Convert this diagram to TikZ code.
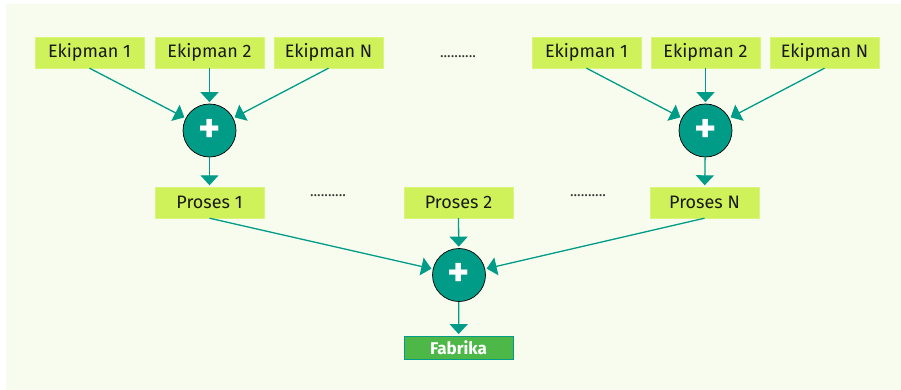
\documentclass[tikz,border=0pt]{standalone}
\usepackage{fontspec}
\setmainfont{Fira Sans}
\usetikzlibrary{arrows.meta}
\definecolor{bgc}{HTML}{F7FCEE}
\definecolor{lime}{HTML}{CFF25A}
\definecolor{teal}{HTML}{009C88}
\definecolor{fgreen}{HTML}{4DB848}
\begin{document}
\begin{tikzpicture}[x=1pt,y=-1pt,
  ebox/.style={fill=lime, draw=lime!80!white, minimum width=109pt, minimum height=31pt, inner sep=0pt, font=\fontsize{18}{20}\selectfont, text=black!90},
  plus/.style={circle, fill=teal, draw=black, line width=0.7pt, minimum size=53pt, inner sep=0pt, text=white, font=\fontsize{42}{42}\selectfont\bfseries},
  conn/.style={draw=teal, line width=1.3pt, -{Triangle[width=18pt,length=10pt]}, shorten >=1.5pt},
  dots/.style={font=\fontsize{15}{15}\selectfont, text=black!80, inner sep=0pt}]
\fill[white] (0,0) rectangle (901,390);
\fill[bgc] (6,4) rectangle (901,390);
% top left group
\node[ebox] (e1) at (89.5,52.5) {Ekipman 1};
\node[ebox] (e2) at (209.5,52.5) {Ekipman 2};
\node[ebox] (eN) at (328.5,52.5) {Ekipman N};
\node[plus] (p1) at (209.5,130.5) {+};
% top right group
\node[ebox] (f1) at (586.5,52.5) {Ekipman 1};
\node[ebox] (f2) at (705.5,52.5) {Ekipman 2};
\node[ebox] (fN) at (824.5,52.5) {Ekipman N};
\node[plus] (p2) at (705.5,130.5) {+};
\node[dots] (d0) at (458,57) {..........};
% processes
\node[ebox] (pr1) at (209.5,202.5) {Proses 1};
\node[ebox] (pr2) at (458.5,202.5) {Proses 2};
\node[ebox] (prN) at (704.5,202.5) {Proses N};
\node[dots] (d1) at (328,196) {..........};
\node[dots] (d2) at (588,196) {..........};
\node[plus] (p3) at (459,275) {+};
\node[fill=fgreen, draw=teal, line width=0.8pt, minimum width=109pt, minimum height=23pt, inner sep=0pt, text=white, font=\fontsize{17}{19}\selectfont\bfseries] (fab) at (458.5,347.5) {Fabrika};
% connectors
\draw[conn] (e1.south) -- (p1);
\draw[conn] (e2.south) -- (p1);
\draw[conn] (eN.south) -- (p1);
\draw[conn] (f1.south) -- (p2);
\draw[conn] (f2.south) -- (p2);
\draw[conn] (fN.south) -- (p2);
\draw[conn] (p1) -- (pr1);
\draw[conn] (p2) -- (prN);
\draw[conn] (pr1.south) -- (p3);
\draw[conn] (pr2.south) -- (p3);
\draw[conn] (prN.south) -- (p3);
\draw[conn] (p3) -- (fab);
\end{tikzpicture}
\end{document}
